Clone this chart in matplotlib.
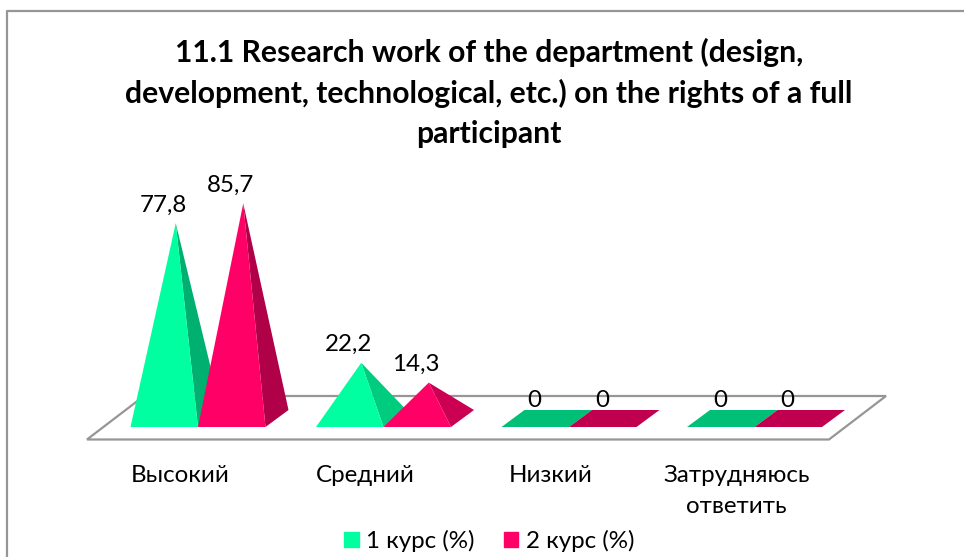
import matplotlib
matplotlib.use('Agg')
import matplotlib.pyplot as plt
from matplotlib.patches import Patch, Polygon

categories = ['Высокий', 'Средний', 'Низкий', 'Затрудняюсь\nответить']
course_1 = [77.8, 22.2, 0, 0]
course_2 = [85.7, 14.3, 0, 0]
series_names = ['1 курс (%)', '2 курс (%)']
title = ('11.1 Research work of the department (design,\n'
         'development, technological, etc.) on the rights of a full\n'
         'participant')

plt.rcParams['font.family'] = ['Lato', 'Open Sans']

W, H = 964, 557
PX_CAT = 185.5   # pixels per category
PX_VAL = 2.51    # pixels per percent
X0, Y0 = 198, 418.5  # pixel of category 0 / value 0

fig = plt.figure(figsize=(W / 100, H / 100), dpi=100)
ax = fig.add_axes([0, 0, 1, 1])
ax.set_xlim(-X0 / PX_CAT, (W - X0) / PX_CAT)
ax.set_ylim(-(H - Y0) / PX_VAL, Y0 / PX_VAL)
ax.axis('off')

bar_w = 67.5 / PX_CAT
dx = 23 / PX_CAT     # depth of a pyramid base
dy = 8.5 / PX_VAL


def side_colour(value, dark, mid, flat):
    if value == 0:
        return flat
    return dark if value > 50 else mid


def pyramid(left, value, front, dark, mid, flat):
    right = left + bar_w
    apex = (left + bar_w / 2 + dx / 2, value)
    if value == 0:
        base = [(left, -dy), (right, -dy), (right + dx, dy), (left + dx, dy)]
        ax.add_patch(Polygon(base, color=flat, lw=0, zorder=3))
    else:
        ax.add_patch(Polygon([(right, -dy), (right + dx, dy), apex],
                             color=side_colour(value, dark, mid, flat), lw=0, zorder=3))
        ax.add_patch(Polygon([(left, -dy), (right, -dy), apex], color=front, lw=0, zorder=3))
    ax.annotate(f'{value:g}'.replace('.', ','), (left + bar_w / 2 - 1 / PX_CAT, value),
                xytext=(0, 13.2), textcoords='offset points', ha='center', va='center',
                fontsize=17.4, color='black', zorder=5)


# floor
fl = -21 / PX_VAL
bk = 22.5 / PX_VAL
floor_x = [-111 / PX_CAT, 631 / PX_CAT, 688 / PX_CAT, -54 / PX_CAT]
floor_y = [fl, fl, bk, bk]
ax.add_patch(Polygon(list(zip(floor_x, floor_y)), closed=True, fill=False,
                     ec='#969696', lw=1.6, zorder=1))

for i in range(len(categories)):
    pyramid(i - bar_w, course_1[i], '#00FFA0', '#00B070', '#00CC7F', '#00C078')
    pyramid(i, course_2[i], '#FF0066', '#B00048', '#CC0052', '#C0004F')
    ax.text(i - 18 / PX_CAT, -(475 - Y0) / PX_VAL if '\n' not in categories[i] else -(491 - Y0) / PX_VAL,
            categories[i], ha='center', va='center', fontsize=17.4, linespacing=1.55)

ax.text((489 - X0) / PX_CAT, (Y0 - 93) / PX_VAL, title, ha='center', va='center',
        fontsize=21.7, fontweight='bold', linespacing=1.5)

# chart frame, open on the right and at the bottom
ax.plot([-191 / PX_CAT, -191 / PX_CAT, (W - X0) / PX_CAT],
        [-(H - Y0) / PX_VAL, (Y0 - 11) / PX_VAL, (Y0 - 11) / PX_VAL],
        color='#969696', lw=1.6, zorder=1)

handles = [Patch(color='#00FFA0'), Patch(color='#FF0066')]
ax.legend(handles, series_names, ncols=2, frameon=False, fontsize=17.4,
          loc='center', bbox_to_anchor=(489 / W, 1 - 541 / H),
          borderpad=0, handlelength=0.62, handleheight=0.62, handletextpad=0.3, columnspacing=1.2)

fig.savefig('out.png', dpi=100)
